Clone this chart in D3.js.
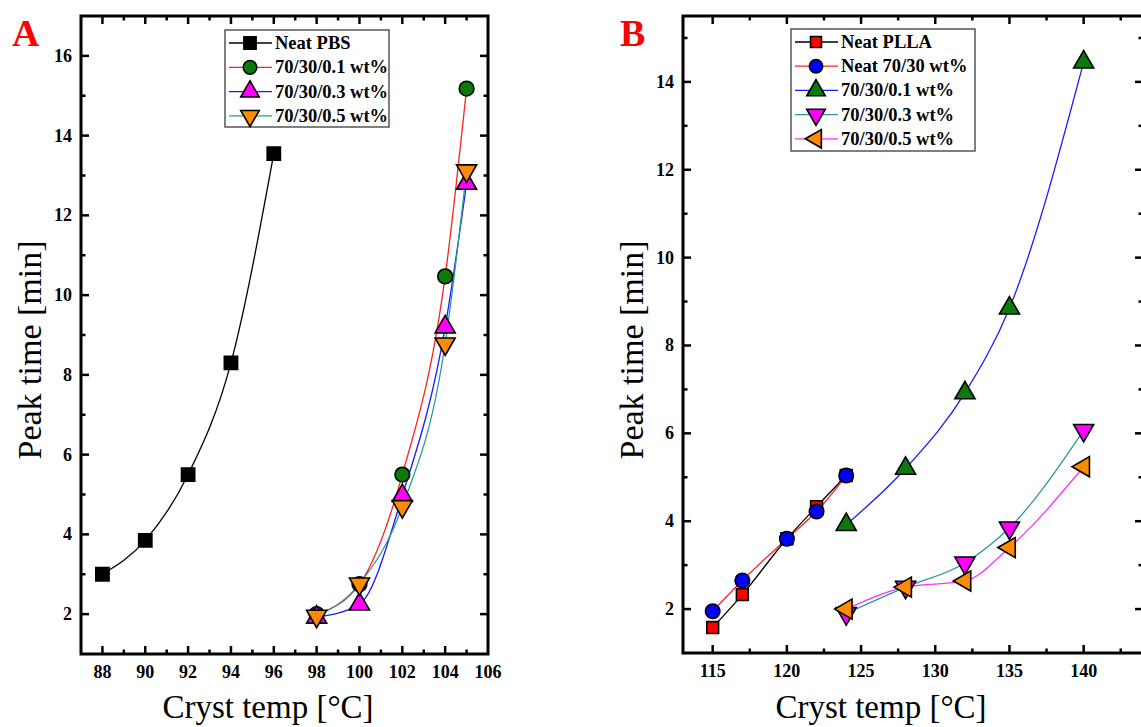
<!DOCTYPE html>
<html>
<head>
<meta charset="utf-8">
<script src="https://cdn.jsdelivr.net/npm/d3@7"></script>
<style>
  body { margin: 0; background: #fff; }
  svg { display: block; }
  svg text { font-family: "Liberation Serif", "DejaVu Serif", "Times New Roman", serif; }
</style>
</head>
<body>
<svg id="chart" width="1141" height="727"></svg>
<script>
// panel A data
const tempsPBS = [88, 90, 92, 94, 96];
const peakPBS = [3.0, 3.85, 5.5, 8.3, 13.55];
const tempsA = [98, 100, 102, 104, 105];
const peakA01 = [2.0, 2.75, 5.5, 10.47, 15.18];
const peakA03 = [1.92, 2.25, 4.97, 9.2, 12.8];
const peakA05 = [1.95, 2.76, 4.7, 8.78, 13.12];
const xTicksA = [88, 90, 92, 94, 96, 98, 100, 102, 104, 106];
const yTicksA = [2, 4, 6, 8, 10, 12, 14, 16];

// panel B data
const tempsNeat = [115, 117, 120, 122, 124];
const peakPLLA = [1.58, 2.33, 3.6, 4.33, 5.04];
const peakNeat7030 = [1.95, 2.65, 3.6, 4.22, 5.04];
const tempsB = [124, 128, 132, 135, 140];
const peakB01 = [3.92, 5.2, 6.92, 8.85, 14.45];
const peakB03 = [1.9, 2.5, 3.05, 3.85, 6.07];
const peakB05 = [2.0, 2.5, 2.64, 3.4, 5.24];
const xTicksB = [115, 120, 125, 130, 135, 140];
const yTicksB = [2, 4, 6, 8, 10, 12, 14];

const svg = d3.select('#chart');
const FONT = '"Liberation Serif", "DejaVu Serif", serif';

const panels = [
  {
    letter: 'A', letterX: 12,
    left: 81, right: 488, top: 16, bottom: 654,
    xDomain: [87, 106], yDomain: [1, 17],
    xTicks: xTicksA, xMinor: d3.range(89, 106, 2),
    yTicks: yTicksA, yMinor: d3.range(3, 17, 2),
    yLabelX: 41, xLabelX: 268,
    legend: { x: 225, y: 30, w: 164, h: 97, rowH: 24.3 },
    series: [
      { name: 'Neat PBS', x: tempsPBS, y: peakPBS, line: '#000', fill: '#000', shape: 'square', size: 175 },
      { name: '70/30/0.1 wt%', x: tempsA, y: peakA01, line: '#ff2020', fill: '#0a7a0a', shape: 'circle', size: 170 },
      { name: '70/30/0.3 wt%', x: tempsA, y: peakA03, line: '#1a1aff', fill: '#ff00ff', shape: 'up', size: 175 },
      { name: '70/30/0.5 wt%', x: tempsA, y: peakA05, line: '#2a9a9a', fill: '#ff8c00', shape: 'down', size: 175 },
    ],
  },
  {
    letter: 'B', letterX: 620,
    left: 683, right: 1143, top: 16, bottom: 653,
    xDomain: [113, 144], yDomain: [1, 15.5],
    xTicks: xTicksB, xMinor: d3.range(117.5, 144, 5),
    yTicks: yTicksB, yMinor: d3.range(3, 16, 2),
    yLabelX: 643, xLabelX: 881,
    legend: { x: 791, y: 29, w: 184, h: 122, rowH: 24.2 },
    series: [
      { name: 'Neat PLLA', x: tempsNeat, y: peakPLLA, line: '#000', fill: '#ff0000', shape: 'square', size: 140 },
      { name: 'Neat 70/30 wt%', x: tempsNeat, y: peakNeat7030, line: '#ff2020', fill: '#0000ff', shape: 'circle', size: 165 },
      { name: '70/30/0.1 wt%', x: tempsB, y: peakB01, line: '#1a1aff', fill: '#0a7a0a', shape: 'up', size: 175 },
      { name: '70/30/0.3 wt%', x: tempsB, y: peakB03, line: '#2a9a9a', fill: '#ff00ff', shape: 'down', size: 175 },
      { name: '70/30/0.5 wt%', x: tempsB, y: peakB05, line: '#ff30ff', fill: '#ff8c00', shape: 'left', size: 175 },
    ],
  },
];

function symbolPath(shape, size) {
  const type = { square: d3.symbolSquare, circle: d3.symbolCircle }[shape] || d3.symbolTriangle;
  return d3.symbol().type(type).size(size)();
}

function symbolRotation(shape) {
  if (shape === 'down') return 180;
  if (shape === 'left') return -90;
  return 0;
}

function drawMarker(g, shape, size, fill, x, y) {
  g.append('path')
    .attr('d', symbolPath(shape, size))
    .attr('transform', `translate(${x},${y}) rotate(${symbolRotation(shape)})`)
    .attr('fill', fill)
    .attr('stroke', '#000')
    .attr('stroke-width', 1.6);
}

function drawPanel(p) {
  const x = d3.scaleLinear().domain(p.xDomain).range([p.left, p.right]);
  const y = d3.scaleLinear().domain(p.yDomain).range([p.bottom, p.top]);
  const g = svg.append('g');

  // ticks, all pointing inward on all four sides
  const ticks = g.append('g').attr('stroke', '#000').attr('stroke-width', 2.5);
  [[p.xTicks.filter((d) => x(d) < p.right - 1), 8], [p.xMinor, 4.5]].forEach(([vals, len]) => {
    vals.forEach((v) => {
      ticks.append('line').attr('x1', x(v)).attr('x2', x(v)).attr('y1', p.bottom).attr('y2', p.bottom - len);
      ticks.append('line').attr('x1', x(v)).attr('x2', x(v)).attr('y1', p.top).attr('y2', p.top + len);
    });
  });
  [[p.yTicks, 8], [p.yMinor, 4.5]].forEach(([vals, len]) => {
    vals.forEach((v) => {
      ticks.append('line').attr('y1', y(v)).attr('y2', y(v)).attr('x1', p.left).attr('x2', p.left + len);
      ticks.append('line').attr('y1', y(v)).attr('y2', y(v)).attr('x1', p.right).attr('x2', p.right - len);
    });
  });

  g.append('rect')
    .attr('x', p.left).attr('y', p.top)
    .attr('width', p.right - p.left).attr('height', p.bottom - p.top)
    .attr('fill', 'none').attr('stroke', '#000').attr('stroke-width', 3);

  // tick labels
  g.append('g').selectAll('text').data(p.xTicks).join('text')
    .attr('x', (d) => x(d)).attr('y', p.bottom + 24)
    .attr('text-anchor', 'middle').style('font-family', FONT).style('font-weight', 700).attr('font-size', 18)
    .text((d) => d);
  g.append('g').selectAll('text').data(p.yTicks).join('text')
    .attr('x', p.left - 9).attr('y', (d) => y(d) + 6)
    .attr('text-anchor', 'end').style('font-family', FONT).style('font-weight', 700).attr('font-size', 18)
    .text((d) => d);

  // axis titles
  g.append('text')
    .attr('transform', `translate(${p.yLabelX},350) rotate(-90)`)
    .attr('text-anchor', 'middle').style('font-family', FONT).attr('font-size', 34)
    .text('Peak time [min]');
  g.append('text')
    .attr('x', p.xLabelX).attr('y', 718)
    .attr('text-anchor', 'middle').style('font-family', FONT).attr('font-size', 33)
    .text('Cryst temp [°C]');

  // panel letter
  g.append('text')
    .attr('x', p.letterX).attr('y', 46)
    .attr('fill', '#ff0000').style('font-family', FONT).style('font-weight', 700).attr('font-size', 38)
    .text(p.letter);

  // series
  const line = d3.line().x((d) => x(d[0])).y((d) => y(d[1])).curve(d3.curveMonotoneX);
  p.series.forEach((s) => {
    g.append('path')
      .attr('d', line(d3.zip(s.x, s.y)))
      .attr('fill', 'none').attr('stroke', s.line).attr('stroke-width', 1.3);
  });
  p.series.forEach((s) => {
    const mg = g.append('g');
    s.x.forEach((xv, i) => drawMarker(mg, s.shape, s.size, s.fill, x(xv), y(s.y[i])));
  });

  // legend
  const L = p.legend;
  const lg = g.append('g');
  lg.append('rect')
    .attr('x', L.x).attr('y', L.y).attr('width', L.w).attr('height', L.h)
    .attr('fill', '#fff').attr('stroke', '#555').attr('stroke-width', 1.5);
  p.series.forEach((s, i) => {
    const cy = L.y + 13 + i * L.rowH;
    lg.append('line')
      .attr('x1', L.x + 4).attr('x2', L.x + 47).attr('y1', cy).attr('y2', cy)
      .attr('stroke', s.line).attr('stroke-width', 1.3);
    drawMarker(lg, s.shape, s.size * 0.85, s.fill, L.x + 25, cy);
    lg.append('text')
      .attr('x', L.x + 50).attr('y', cy + 6)
      .style('font-family', FONT).style('font-weight', 700).attr('font-size', 18.5)
      .text(s.name);
  });
}

panels.forEach(drawPanel);
</script>
</body>
</html>
